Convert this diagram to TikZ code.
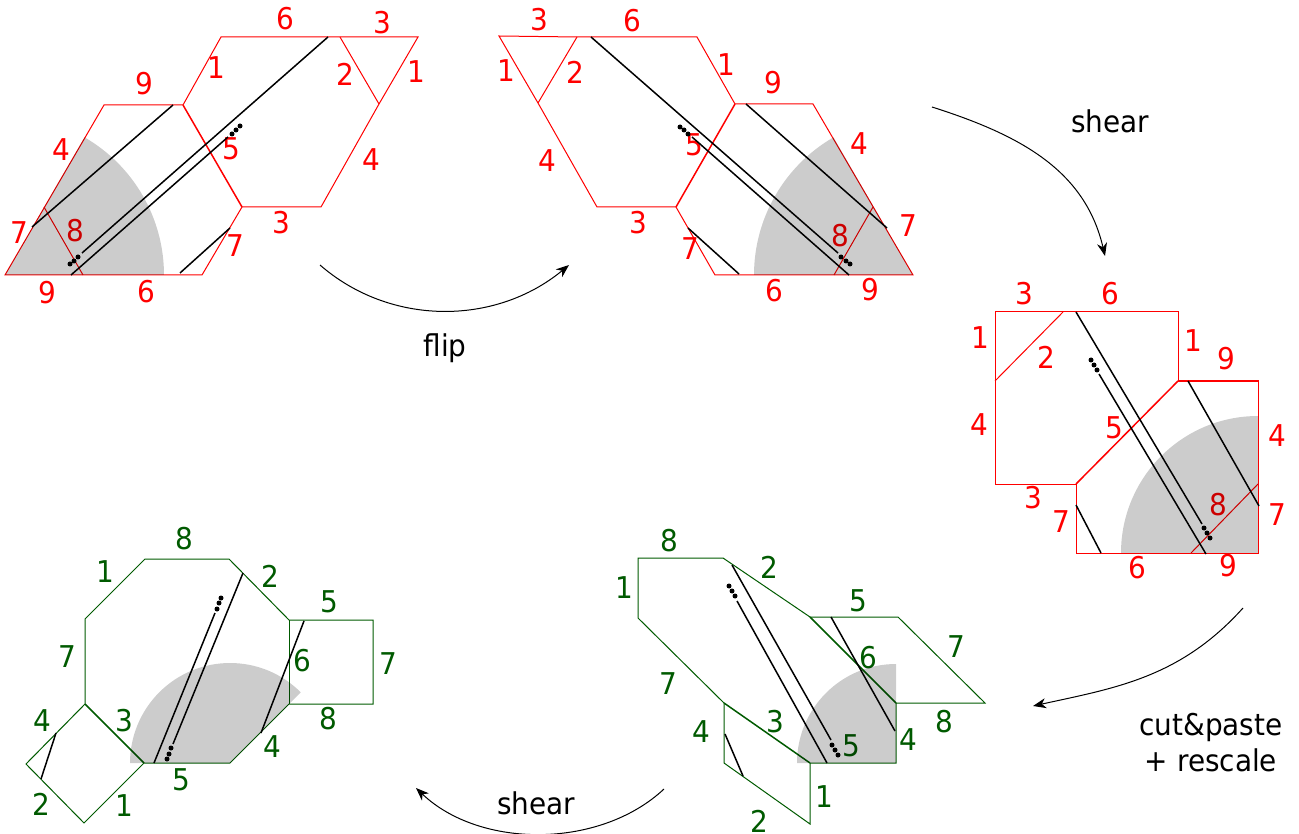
\documentclass[tikz,border=0pt]{standalone}
\usepackage{fontspec}
\setmainfont{DejaVu Sans}[FakeStretch=0.93]
\usetikzlibrary{arrows.meta}
\definecolor{edgered}{HTML}{FF0000}
\definecolor{edgegreen}{HTML}{005A00}
\tikzset{
  x=1pt,y=-1pt,
  lab/.style={inner sep=0pt,font=\fontsize{30}{36}\selectfont},
  redlab/.style={lab,text=edgered},
  greenlab/.style={lab,text=edgegreen},
  caption/.style={lab,text=black,align=center},
  redline/.style={draw=edgered,line width=1pt,line join=miter},
  greenline/.style={draw=edgegreen,line width=1pt,line join=miter},
  cutline/.style={line width=1.5pt},
  blackline/.style={draw=black,line width=1.5pt},
  sector/.style={fill=black,fill opacity=0.2,draw=none},
  dotmark/.style={circle,fill=black,inner sep=0pt,minimum size=5pt},
  flow/.style={draw=black,line width=1pt,-{Stealth[length=13pt,width=10pt,inset=4pt]}},
}
\newcommand{\dottriple}[7]{%
  \node[dotmark] (#1a) at (#2,#3) {};
  \node[dotmark] (#1b) at (#4,#5) {};
  \node[dotmark] (#1c) at (#6,#7) {};
}
\begin{document}
\begin{tikzpicture}
\useasboundingbox (0,0) rectangle (1299,834);
% Panel 1
\draw[redline] (5,275) -- (104,105) -- (183,105) -- (221,37) -- (340,37) -- (418,37) -- (379,104) -- (321,207) -- (242,207) -- (202,275) -- (83,275) -- cycle;
\draw[redline,cutline] (183,105) -- (242,207);
\draw[redline] (340,37) -- (379,104);
\draw[redline] (44,207) -- (83,275);
\foreach \x/\y/\t [count=\i] in {285/19/6,382/23/3,216/68/1,345/74/2,416/72/1,144/84/9,61/150/4,231/149/5,371/160/4,19/233/7,75/231/8,281/223/3,235/246/7,47/293/9,146/292/6}
  \node[redlab] (a\i) at (\x,\y) {\t};
\fill[sector] (5,275) -- +(0:159) arc[start angle=0,end angle=-60,radius=159] -- cycle;
\draw[blackline] (32,227) -- (173,105);
\draw[blackline] (328,37) -- (82,253);
\draw[blackline] (228,137) -- (71,275);
\draw[blackline] (230,228) -- (180,273);
\dottriple{ad}{232}{134}{236}{130}{240}{126}
\dottriple{ae}{70}{264}{74}{261}{78}{257}
% Panel 2
\draw[redline] (499,36) -- (577,37) -- (697,37) -- (735,104) -- (813,104) -- (913,275) -- (834,275) -- (715,275) -- (676,207) -- (597,207) -- (538,103) -- cycle;
\draw[redline] (577,37) -- (538,103);
\draw[redline,cutline] (735,104) -- (676,207);
\draw[redline] (873,207) -- (834,275);
\foreach \x/\y/\t [count=\i] in {539/20/3,632/21/6,506/71/1,575/72/2,726/65/1,773/83/9,859/144/4,694/145/5,547/161/4,638/223/3,690/249/7,908/226/7,840/236/8,774/291/6,870/290/9}
  \node[redlab] (b\i) at (\x,\y) {\t};
\fill[sector] (913,275) -- +(-120:159) arc[start angle=-120,end angle=-180,radius=159] -- cycle;
\draw[blackline] (591,37) -- (838,253);
\draw[blackline] (692,137) -- (849,275);
\draw[blackline] (746,104) -- (887,228);
\draw[blackline] (688,228) -- (739,274);
\dottriple{bd}{680}{127}{684}{130}{688}{134}
\dottriple{be}{841}{257}{846}{261}{850}{264}
% Panel 3
\draw[redline] (995,312) -- (1178,312) -- (1178,381) -- (1258,381) -- (1258,553) -- (1076,553) -- (1076,484) -- (995,484) -- cycle;
\draw[redline] (1063,312) -- (995,381);
\draw[redline,cutline] (1178,381) -- (1076,484);
\draw[redline] (1258,484) -- (1191,553);
\foreach \x/\y/\t [count=\i] in {1024/294/3,1110/294/6,980/338/1,1046/357/2,1193/341/1,1226/359/9,979/425/4,1114/428/5,1277/436/4,1033/498/3,1061/522/7,1277/515/7,1218/505/8,1137/568/6,1228/566/9}
  \node[redlab] (c\i) at (\x,\y) {\t};
\fill[sector] (1258,553) -- +(-90:137) arc[start angle=-90,end angle=-180,radius=137] -- cycle;
\draw[blackline] (1076,312) -- (1202,524);
\draw[blackline] (1099,374) -- (1206,554);
\draw[blackline] (1188,381) -- (1259,506);
\draw[blackline] (1076,505) -- (1101,553);
\dottriple{cd}{1091}{360}{1094}{365}{1097}{370}
\dottriple{ce}{1204}{528}{1207}{533}{1210}{538}
% Panel 4
\draw[greenline] (638,558) -- (723,558) -- (810,617) -- (898,617) -- (985,703) -- (896,703) -- (896,763) -- (810,763) -- (810,824) -- (724,763) -- (724,703) -- (638,618) -- cycle;
\draw[greenline,cutline] (810,617) -- (896,703);
\draw[greenline,cutline] (724,703) -- (810,763);
\foreach \x/\y/\t [count=\i] in {669/541/8,769/567/2,858/601/5,624/588/1,956/647/7,868/658/6,668/684/7,775/722/3,701/732/4,944/722/8,851/746/5,908/740/4,824/797/1,759/821/2}
  \node[greenlab] (d\i) at (\x,\y) {\t};
\fill[sector] (896,763) -- +(-90:99) arc[start angle=-90,end angle=-180,radius=99] -- cycle;
\draw[blackline] (732,565) -- (831,740);
\draw[blackline] (737,601) -- (827,763);
\draw[blackline] (831,617) -- (895,731);
\draw[blackline] (725,734) -- (743,776);
\dottriple{dd}{729}{586}{732}{591}{735}{596}
\dottriple{de}{832}{745}{835}{750}{838}{755}
% Panel 5
\draw[greenline] (145,559) -- (229,559) -- (289,620) -- (373,620) -- (373,704) -- (289,704) -- (230,763) -- (144,763) -- (84,823) -- (26,764) -- (85,704) -- (85,619) -- cycle;
\draw[greenline] (289,620) -- (289,704);
\draw[greenline,cutline] (85,704) -- (144,763);
\foreach \x/\y/\t [count=\i] in {184/539/8,105/572/1,270/576/2,329/602/5,67/657/7,302/661/6,388/664/7,124/721/3,42/721/4,328/719/8,272/747/4,181/780/5,41/804/2,124/806/1}
  \node[greenlab] (e\i) at (\x,\y) {\t};
\fill[sector] (230,763) -- +(-45:100) arc[start angle=-45,end angle=-180,radius=100] -- cycle;
\draw[blackline] (243,573) -- (173,744);
\draw[blackline] (215,613) -- (154,763);
\draw[blackline] (304,621) -- (261,733);
\draw[blackline] (56,733) -- (41,779);
\dottriple{ed}{221}{598}{219}{603}{217}{609}
\dottriple{ee}{171}{748}{169}{754}{167}{759}
% Arrows between panels
\coordinate (fa) at (320,265); \coordinate (fb) at (569,265);
\coordinate (sa) at (932,107); \coordinate (sb) at (1105,256);
\coordinate (ca) at (1243,608); \coordinate (cb) at (1033,706);
\coordinate (ta) at (664,789); \coordinate (tb) at (416,788);
\draw[flow] (fa) .. controls (390,326) and (495,326) .. (fb);
\draw[flow] (sa) .. controls (1020,135) and (1085,170) .. (sb);
\draw[flow] (ca) .. controls (1180,678) and (1115,688) .. (cb);
\draw[flow] (ta) .. controls (600,849) and (480,849) .. (tb);
\node[caption] (flip) at (445,348) {flip};
\node[caption] (shearone) at (1110,121) {shear};
\node[caption] (cut) at (1211,743) {cut\&paste\\+ rescale};
\node[caption] (sheartwo) at (536,803) {shear};
\end{tikzpicture}
\end{document}
